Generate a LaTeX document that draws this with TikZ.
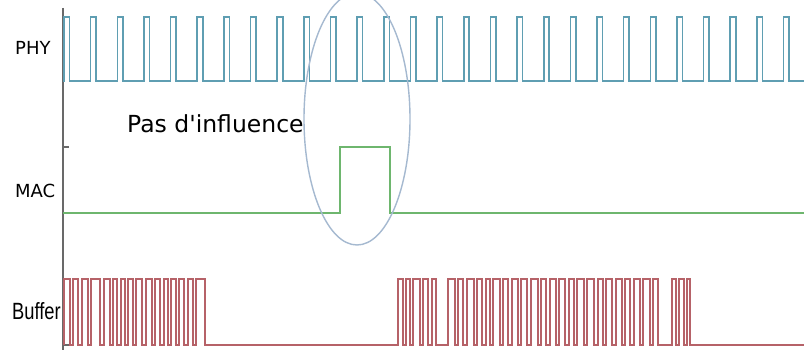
\documentclass[tikz,border=0pt]{standalone}
\usepackage{fontspec}
\setmainfont{DejaVu Sans}
\newfontfamily\notefont{DejaVu Sans}
\newfontfamily\bufffont{Liberation Sans}
\usetikzlibrary{
  shapes.geometric,
  positioning
}
\definecolor{phyblue}{RGB}{95,158,178}
\definecolor{macgreen}{RGB}{110,182,110}
\definecolor{bufred}{RGB}{182,98,104}
\definecolor{axisgray}{RGB}{105,105,105}
\definecolor{zonegray}{RGB}{165,185,208}
\tikzset{
  axisline/.style={draw=axisgray, line width=1.4pt},
  physig/.style={draw=phyblue, line width=1.6pt, line join=miter},
  macsig/.style={draw=macgreen, line width=1.6pt},
  bufsig/.style={draw=bufred, line width=1.6pt},
  zonebox/.style={
    ellipse, draw=zonegray, line width=1.4pt,
    minimum width=106pt, minimum height=252pt, inner sep=0pt
  },
  siglabel/.style={font=\fontsize{18}{20}\selectfont, anchor=base west, inner sep=0pt},
  notelabel/.style={font=\notefont\fontsize{23.5}{26}\selectfont, anchor=base west, inner sep=0pt},
}

\begin{document}
\begin{tikzpicture}[x=1pt, y=-1pt]

  \clip (0,0) rectangle (804,350);
  \fill[white] (0,0) rectangle (804,350);

  %% axis
  \draw[axisline] (63,8) -- (63,350);
  \draw[axisline] (63,147) -- (69,147);
  \draw[axisline] (63,345) -- (69,345);

  %% labels
  \node[siglabel] (phy) at (15,55) {PHY};
  \node[siglabel] (mac) at (15,197) {MAC};
  \node[siglabel, font=\bufffont\fontsize{23.5}{26}\selectfont, xscale=0.78, transform shape]
    (buf) at (12,319) {Buffer};

  %% PHY clock
  \draw[physig] (63,81)
    \foreach \k in {0,...,27}{
      -- ({64+26.65*\k},81) -- ++(0,-64) -- ++(5.5,0) -- ++(0,64)
    } -- (804,81);

  %% MAC frame
  \draw[macsig] (63,213) -- (340,213) -- (340,147) -- (390,147)
    -- (390,213) -- (804,213);

  %% Buffer bursts
  \draw[bufsig] (64,345) -- (64,279)
    \foreach \a/\b in {70/73, 78/82, 88/91, 100/104, 110/113, 117/121,
                       125/128, 133/136, 142/146, 152/155, 160/164,
                       168/171, 176/179, 184/188, 193/196}{
      -- (\a,279) -- (\a,345) -- (\b,345) -- (\b,279)
    } -- (205,279) -- (205,345) -- (398,345) -- (398,279)
    \foreach \a/\b in {403/406, 410/413, 420/423, 428/432, 436/448,
                       455/458, 463/467, 474/477, 482/486, 490/493,
                       500/503, 508/512, 518/521, 527/531, 538/541,
                       546/550, 556/559, 565/569, 574/577, 584/587,
                       594/598, 603/606, 612/616, 622/625, 630/634,
                       640/643, 650/653, 658/672, 676/679, 684/687}{
      -- (\a,279) -- (\a,345) -- (\b,345) -- (\b,279)
    } -- (690,279) -- (690,345) -- (804,345);

  %% zone without influence
  \node[zonebox] (zone) at (357,119) {};
  \node[notelabel] (note) at (127,133) {Pas d'influence};

\end{tikzpicture}
\end{document}
